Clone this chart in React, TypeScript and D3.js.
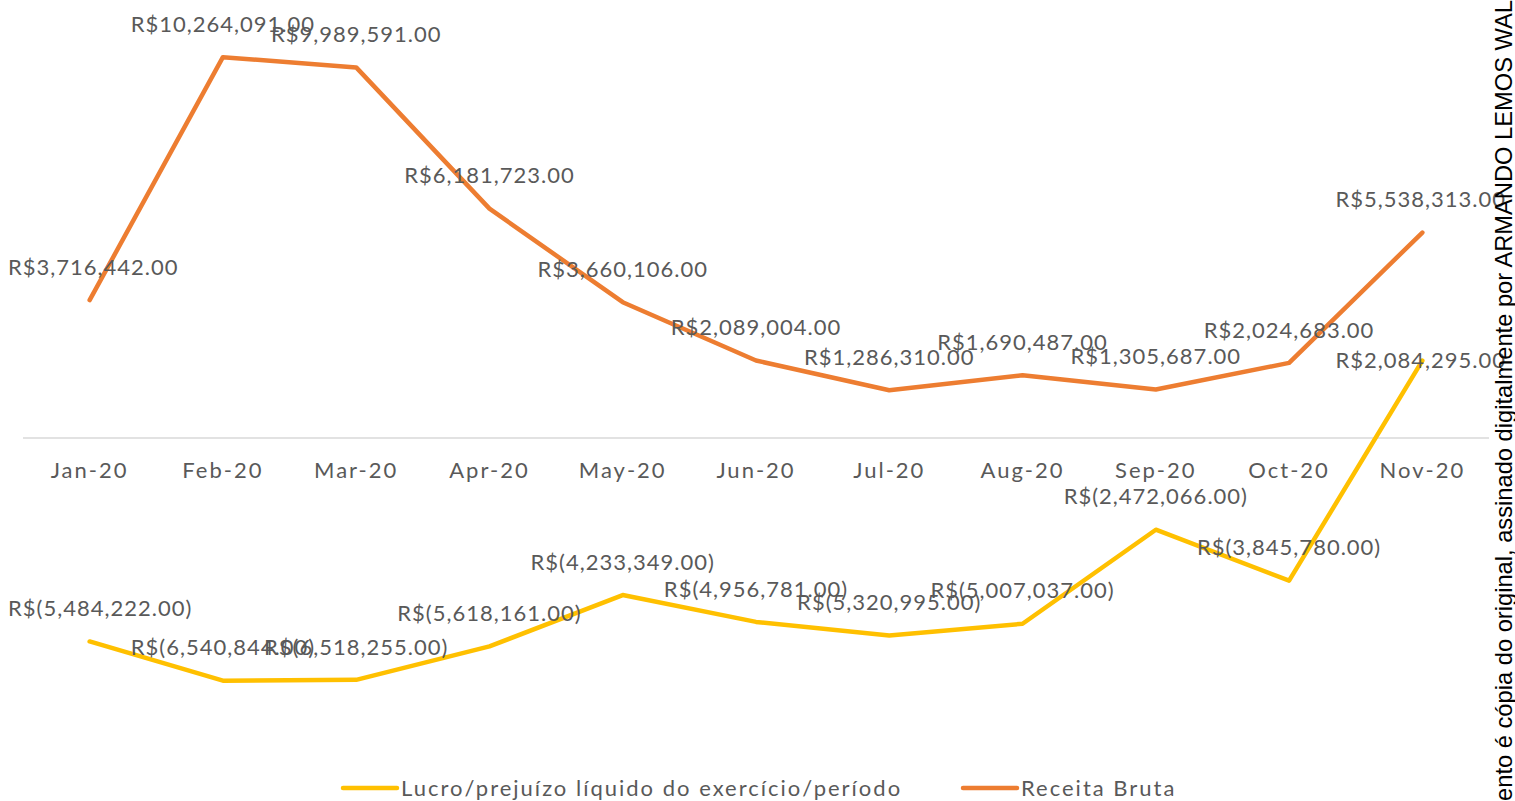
import React, { useLayoutEffect, useRef } from 'react';
import * as d3 from 'd3';

const months = ['Jan-20', 'Feb-20', 'Mar-20', 'Apr-20', 'May-20', 'Jun-20', 'Jul-20', 'Aug-20', 'Sep-20', 'Oct-20', 'Nov-20'];
const receitaBruta = [3716442, 10264091, 9989591, 6181723, 3660106, 2089004, 1286310, 1690487, 1305687, 2024683, 5538313];
const lucroPrejuizo = [-5484222, -6540844, -6518255, -5618161, -4233349, -4956781, -5320995, -5007037, -2472066, -3845780, 2084295];

const seriesNames = ['Lucro/prejuízo líquido do exercício/período', 'Receita Bruta'];
const colors = ['#FFC000', '#ED7D31'];
const watermark = 'Este documento é cópia do original, assinado digitalmente por ARMANDO LEMOS WALD';

const width = 1515;
const height = 801;
const labelFont = 'Lato, "DejaVu Sans", sans-serif';
const textColor = '#595959';

function fmt(v: number) {
    const s = d3.format(',.2f')(Math.abs(v));
    return v < 0 ? `R$(${s})` : `R$${s}`;
}

const App = () => {
    const labelsRef = useRef<SVGGElement>(null);

    let x = d3.scaleBand().domain(months).range([23, 1489]);
    let cx = (m: string) => (x(m) as number) + x.bandwidth() / 2;
    let y = d3.scaleLinear().domain([-8e6, 12e6]).range([438 + 8 * 37.1, 438 - 12 * 37.1]);

    let line = d3.line<number>()
        .x((d, i) => cx(months[i]))
        .y(d => y(d));

    const series = [lucroPrejuizo, receitaBruta];

    // keep data labels inside the chart area like Excel does
    useLayoutEffect(() => {
        if (!labelsRef.current) return;
        d3.select(labelsRef.current).selectAll<SVGTextElement, unknown>('text').each(function () {
            let b = this.getBBox();
            let cur = +(this.getAttribute('x') || 0);
            if (b.x < 8) this.setAttribute('x', String(cur + 8 - b.x));
            else if (b.x + b.width > 1506) this.setAttribute('x', String(cur - (b.x + b.width - 1506)));
        });
    }, []);

    return (
        <svg width={width} height={height} style={{ position: 'absolute', left: 0, top: 0, background: '#fff' }}>
            <line x1={x.range()[0]} x2={x.range()[1]} y1={y(0)} y2={y(0)} stroke="#D9D9D9" strokeWidth={1.5} />
            {months.map(m => (
                <text key={m} x={cx(m)} y={y(0) + 32} dy="0.35em" textAnchor="middle"
                    fontFamily={labelFont} fontSize={22} letterSpacing={2} fill={textColor}>{m}</text>
            ))}
            {series.map((s, si) => (
                <path key={si} d={line(s) as string} fill="none" stroke={colors[si]} strokeWidth={4.5}
                    strokeLinejoin="round" strokeLinecap="round" />
            ))}
            <g ref={labelsRef}>
                {series.map((s, si) => s.map((v, i) => {
                    // the last profit label sits on its point in the source
                    let off = si === 0 && i === s.length - 1 ? 0 : 33;
                    return (
                        <text key={`${si}-${i}`} x={cx(months[i])} y={y(v) - off} dy="0.35em" textAnchor="middle"
                            fontFamily={labelFont} fontSize={22} letterSpacing={1} fill={textColor}>{fmt(v)}</text>
                    );
                }))}
            </g>
            {seriesNames.map((n, i) => {
                let lx = i === 0 ? 343 : 963;
                return (
                    <g key={n} transform={`translate(${lx},788)`}>
                        <line x1={0} x2={54} y1={0} y2={0} stroke={colors[i]} strokeWidth={4.5} strokeLinecap="round" />
                        <text x={58} dy="0.35em" fontFamily={labelFont} fontSize={22} letterSpacing={2} fill={textColor}>{n}</text>
                    </g>
                );
            })}
            <text transform="translate(1512,926) rotate(-90)" fontFamily='"Liberation Sans", Arial, sans-serif'
                fontSize={23.7} fill="#000">{watermark}</text>
        </svg>
    );
};

export default App;
